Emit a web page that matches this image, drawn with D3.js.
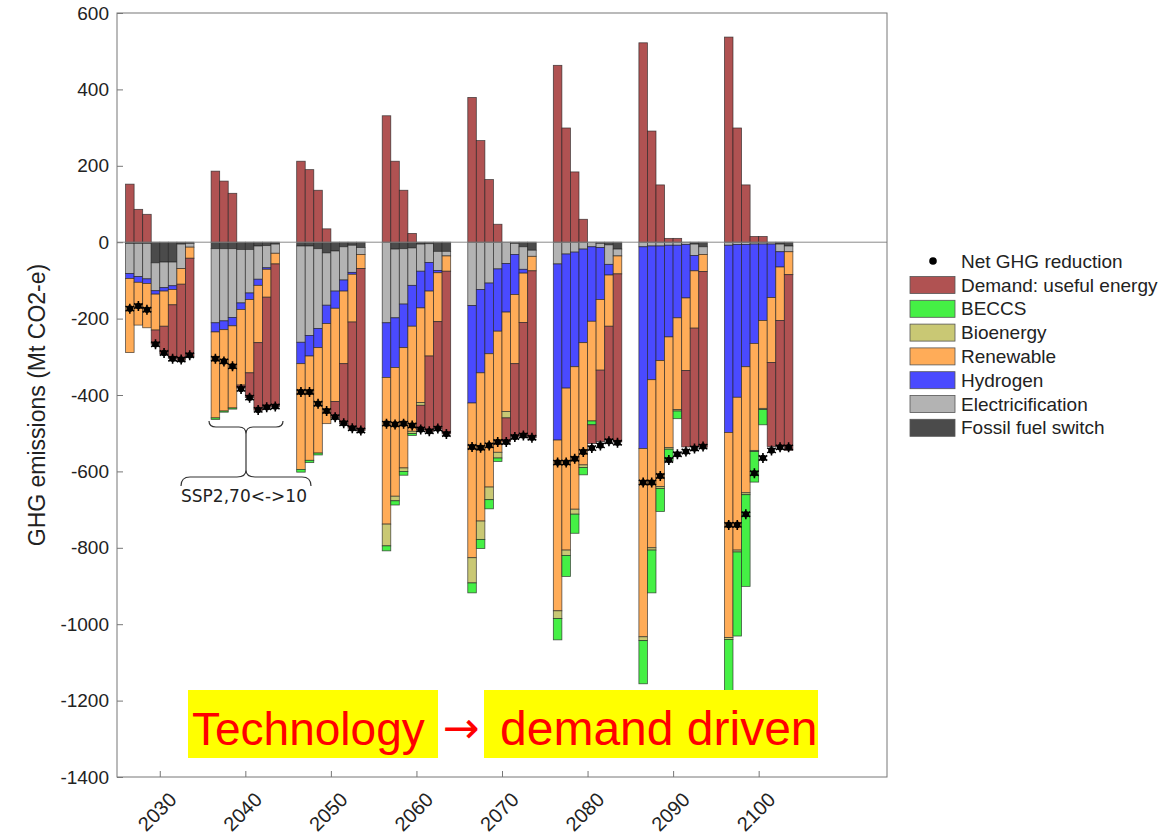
<!DOCTYPE html>
<html>
<head>
<meta charset="utf-8">
<script src="https://cdn.jsdelivr.net/npm/d3@7"></script>
<style>
  body { margin: 0; background: #fff; }
  text { font-family: "Liberation Sans", Arial, sans-serif; }
</style>
</head>
<body>
<div id="chart"></div>
<script>
// decade groups, 8 scenario bars each (SSP2, 70 <-> 10)
const years = [2030, 2040, 2050, 2060, 2070, 2080, 2090, 2100];

// Mt CO2-e, one row per decade (downward contributions as positive magnitudes)
const fossilSwitch = [
  [3, 3, 3, 54, 52, 52, 5, 3],
  [17, 17, 17, 19, 19, 10, 9, 5],
  [10, 10, 17, 28, 23, 12, 8, 14],
  [0, 18, 17, 15, 5, 4, 24, 24],
  [0, 0, 0, 0, 0, 3, 12, 21],
  [0, 0, 0, 0, 0, 3, 7, 18],
  [0, 0, 0, 0, 0, 0, 5, 12],
  [0, 0, 0, 0, 0, 0, 5, 10]
];
const electrification = [
  [79, 87, 93, 73, 67, 62, 64, 10],
  [194, 189, 180, 140, 114, 87, 58, 24],
  [252, 234, 209, 137, 105, 87, 71, 18],
  [211, 180, 145, 98, 71, 49, 50, 12],
  [166, 124, 107, 70, 56, 29, 59, 16],
  [57, 31, 26, 18, 12, 11, 51, 18],
  [12, 10, 10, 8, 8, 6, 30, 20],
  [8, 6, 6, 5, 5, 5, 20, 15]
];
const hydrogen = [
  [13, 15, 12, 9, 9, 10, 0, 0],
  [24, 23, 22, 17, 17, 16, 4, 0],
  [56, 54, 50, 48, 45, 29, 5, 0],
  [143, 130, 114, 107, 96, 75, 6, 0],
  [255, 218, 185, 163, 127, 105, 10, 0],
  [461, 351, 300, 245, 195, 136, 28, 0],
  [528, 350, 300, 240, 190, 140, 40, 0],
  [490, 400, 320, 260, 200, 140, 40, 0]
];
const renewable = [
  [194, 112, 116, 94, 92, 40, 41, 29],
  [225, 213, 215, 198, 192, 150, 73, 28],
  [277, 273, 276, 262, 244, 190, 125, 37],
  [384, 337, 315, 275, 248, 170, 128, 40],
  [405, 388, 349, 317, 260, 181, 129, 38],
  [447, 424, 373, 320, 261, 185, 134, 47],
  [493, 440, 330, 290, 240, 190, 150, 45],
  [537, 400, 330, 280, 230, 170, 140, 60]
];
const bioenergy = [
  [0, 0, 0, 0, 0, 0, 0, 0],
  [0, 0, 0, 0, 0, 0, 0, 0],
  [0, 0, 0, 0, 0, 0, 0, 0],
  [57, 12, 9, 6, 7, 0, 0, 0],
  [66, 48, 33, 15, 17, 0, 0, 0],
  [20, 14, 13, 7, 0, 0, 0, 0],
  [10, 6, 5, 4, 4, 0, 0, 0],
  [5, 5, 5, 3, 3, 0, 0, 0]
];
const beccs = [
  [0, 0, 0, 0, 0, 0, 0, 0],
  [4, 3, 3, 0, 0, 0, 0, 0],
  [7, 6, 5, 0, 0, 0, 0, 0],
  [13, 11, 10, 5, 0, 0, 0, 0],
  [26, 24, 24, 9, 0, 0, 0, 0],
  [56, 55, 50, 19, 10, 0, 0, 0],
  [113, 112, 60, 30, 20, 0, 0, 0],
  [160, 220, 240, 80, 40, 0, 0, 0]
];
// demand: useful energy (signed, can go either way)
const demand = [
  [152, 86, 73, -37, -72, -140, -199, -258],
  [186, 160, 128, -8, -65, -177, -288, -374],
  [212, 190, 136, 35, -42, -157, -278, -424],
  [331, 212, 136, 23, -64, -197, -281, -426],
  [379, 266, 164, 47, -63, -192, -297, -437],
  [463, 299, 184, 60, -49, -187, -297, -440],
  [522, 291, 150, 10, 10, -200, -310, -460],
  [537, 299, 150, 15, 15, -220, -330, -460]
];
const netReduction = [
  [-174, -167, -177, -267, -290, -305, -307, -296],
  [-305, -312, -325, -384, -407, -439, -432, -430],
  [-392, -392, -423, -442, -458, -474, -487, -493],
  [-475, -477, -475, -480, -490, -495, -488, -502],
  [-536, -538, -532, -523, -523, -510, -506, -512],
  [-577, -577, -567, -549, -539, -532, -521, -525],
  [-629, -629, -612, -570, -555, -548, -540, -535],
  [-740, -740, -712, -605, -565, -545, -537, -537]
];
const yTicks = [600, 400, 200, 0, -200, -400, -600, -800, -1000, -1200, -1400];

const series = [
  { key: "fossil", label: "Fossil fuel switch", color: "#4b4b4b", data: fossilSwitch },
  { key: "elec", label: "Electricification", color: "#b3b3b3", data: electrification },
  { key: "hyd", label: "Hydrogen", color: "#4a4aff", data: hydrogen },
  { key: "ren", label: "Renewable", color: "#ffac58", data: renewable },
  { key: "bio", label: "Bioenergy", color: "#c9c874", data: bioenergy },
  { key: "beccs", label: "BECCS", color: "#45f045", data: beccs }
];
const demandColor = "#b05252";

const W = 1160, H = 837;
const margin = { top: 13, right: 273, bottom: 60, left: 117 };
const width = W - margin.left - margin.right;
const height = H - margin.top - margin.bottom;

const svg = d3.select("#chart").append("svg")
  .attr("width", W)
  .attr("height", H);

const x = d3.scaleLinear().domain([2025, 2115]).range([margin.left, margin.left + width]);
const y = d3.scaleLinear().domain([-1400, 600]).range([margin.top + height, margin.top]);

// build segments
let segments = [];
let dots = [];
years.forEach(function(yr, gi) {
  for (let bi = 0; bi < 8; bi++) {
    let x0 = yr - 4 + bi;
    let base = 0;
    series.forEach(function(s) {
      let v = s.data[gi][bi];
      if (v > 0) {
        segments.push({ x0: x0, a: base, b: base - v, color: s.color });
        base -= v;
      }
    });
    let d = demand[gi][bi];
    if (d > 0) {
      segments.push({ x0: x0, a: 0, b: d, color: demandColor });
    } else if (d < 0) {
      segments.push({ x0: x0, a: base, b: base + d, color: demandColor });
    }
    dots.push({ x0: x0, v: netReduction[gi][bi] });
  }
});

const plot = svg.append("g");

plot.selectAll(".seg")
  .data(segments)
  .enter().append("rect")
  .attr("class", "seg")
  .attr("x", d => x(d.x0))
  .attr("width", d => x(d.x0 + 1) - x(d.x0))
  .attr("y", d => y(Math.max(d.a, d.b)))
  .attr("height", d => Math.abs(y(d.a) - y(d.b)))
  .attr("fill", d => d.color)
  .attr("stroke", "#222")
  .attr("stroke-opacity", 0.75)
  .attr("stroke-width", 0.8);

// zero line
plot.append("line")
  .attr("x1", x(2025)).attr("x2", x(2115))
  .attr("y1", y(0)).attr("y2", y(0))
  .attr("stroke", "#8a8a8a")
  .attr("stroke-width", 1);

// net reduction markers
const star = d3.symbol().type(d3.symbolAsterisk).size(70);
const dotG = plot.selectAll(".net")
  .data(dots)
  .enter().append("g")
  .attr("class", "net")
  .attr("transform", d => "translate(" + x(d.x0 + 0.5) + "," + y(d.v) + ")");
dotG.append("circle").attr("r", 3.3).attr("fill", "#000");
dotG.append("path").attr("d", star).attr("stroke", "#000").attr("stroke-width", 1.6).attr("fill", "none");

// frame
svg.append("rect")
  .attr("x", margin.left).attr("y", margin.top)
  .attr("width", width).attr("height", height)
  .attr("fill", "none")
  .attr("stroke", "#777")
  .attr("stroke-width", 1);

// y axis
const yAxis = svg.append("g")
  .attr("transform", "translate(" + margin.left + ",0)")
  .call(d3.axisLeft(y).tickValues(yTicks).tickSize(-6).tickPadding(8).tickFormat(d => String(d)));
yAxis.select(".domain").remove();
yAxis.selectAll("line").attr("stroke", "#777");
yAxis.selectAll("text")
  .attr("font-size", 19)
  .attr("fill", "#222")
  .style("font-family", "'Liberation Sans', Arial, sans-serif");

// x axis
const xAxis = svg.append("g")
  .attr("transform", "translate(0," + (margin.top + height) + ")")
  .call(d3.axisBottom(x).tickValues(years).tickSize(-6).tickFormat(""));
xAxis.select(".domain").remove();
xAxis.selectAll("line").attr("stroke", "#777");

svg.selectAll(".xlab")
  .data(years)
  .enter().append("text")
  .attr("class", "xlab")
  .attr("transform", d => "translate(" + (x(d) + 18) + "," + (margin.top + height + 24) + ") rotate(-45)")
  .attr("text-anchor", "end")
  .attr("font-size", 20)
  .attr("fill", "#222")
  .text(d => d);

// y label
svg.append("text")
  .attr("transform", "translate(45," + (margin.top + height / 2 + 10) + ") rotate(-90)")
  .attr("text-anchor", "middle")
  .attr("font-size", 23)
  .attr("fill", "#222")
  .text("GHG emissions (Mt CO2-e)");

// legend
const legendItems = [
  { label: "Demand: useful energy", color: demandColor },
  { label: "BECCS", color: "#45f045" },
  { label: "Bioenergy", color: "#c9c874" },
  { label: "Renewable", color: "#ffac58" },
  { label: "Hydrogen", color: "#4a4aff" },
  { label: "Electricification", color: "#b3b3b3" },
  { label: "Fossil fuel switch", color: "#4b4b4b" }
];
const legend = svg.append("g").attr("transform", "translate(910,0)");
legend.append("circle").attr("cx", 23).attr("cy", 261).attr("r", 3.8).attr("fill", "#000");
legend.append("text")
  .attr("x", 51).attr("y", 261).attr("dy", "0.35em")
  .attr("font-size", 19).attr("fill", "#222")
  .text("Net GHG reduction");
const li = legend.selectAll(".li")
  .data(legendItems)
  .enter().append("g")
  .attr("class", "li")
  .attr("transform", (d, i) => "translate(0," + (285 + i * 23.8) + ")");
li.append("rect")
  .attr("x", 0).attr("y", -8.5)
  .attr("width", 45).attr("height", 17)
  .attr("fill", d => d.color)
  .attr("stroke", "#555").attr("stroke-width", 0.8);
li.append("text")
  .attr("x", 51).attr("dy", "0.35em")
  .attr("font-size", 19).attr("fill", "#222")
  .text(d => d.label);

// brace annotation
const brace = svg.append("g").attr("fill", "none").attr("stroke", "#333").attr("stroke-width", 1.2);
brace.append("path").attr("d", "M209,421 Q209,427 216,427 L239,427 Q246,427 246,434 Q246,427 253,427 L276,427 Q283,427 283,421");
brace.append("line").attr("x1", 246).attr("x2", 246).attr("y1", 434).attr("y2", 470);
brace.append("path").attr("d", "M181,486 Q181,477 190,477 L237,477 Q246,477 246,470 Q246,477 255,477 L302,477 Q311,477 311,486");
svg.append("text")
  .attr("x", 244).attr("y", 502)
  .attr("text-anchor", "middle")
  .attr("font-size", 17)
  .attr("fill", "#222")
  .style("font-family", "'DejaVu Sans', sans-serif")
  .text("SSP2,70<->10");

// headline overlay
svg.append("rect").attr("x", 188).attr("y", 690).attr("width", 250).attr("height", 68).attr("fill", "#ffff00");
svg.append("rect").attr("x", 484).attr("y", 690).attr("width", 334).attr("height", 68).attr("fill", "#ffff00");
const head = svg.append("g").attr("fill", "#ff0000").style("font-family", "Lato, 'Open Sans', sans-serif");
head.append("text").attr("x", 192).attr("y", 745).attr("font-size", 46).text("Technology");
head.append("text").attr("x", 461).attr("y", 743).attr("text-anchor", "middle").attr("font-size", 44)
  .style("font-family", "'DejaVu Sans', sans-serif").text("\u2192");
head.append("text").attr("x", 500).attr("y", 745).attr("font-size", 48).text("demand driven");
</script>
</body>
</html>
